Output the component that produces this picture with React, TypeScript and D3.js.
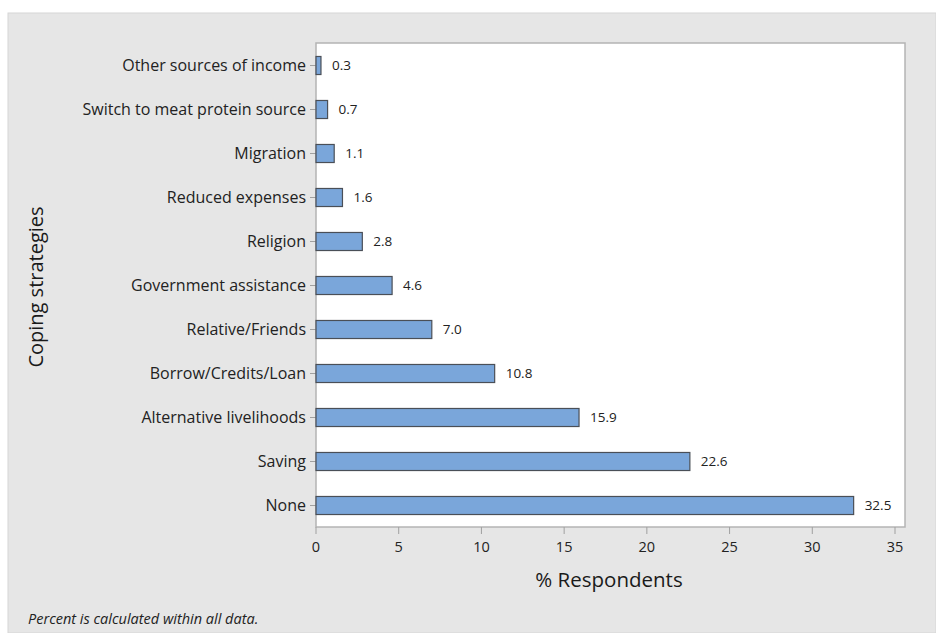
import React, { useEffect, useRef } from "react";
import * as d3 from "d3";

const categories = [
  "Other sources of income",
  "Switch to meat protein source",
  "Migration",
  "Reduced expenses",
  "Religion",
  "Government assistance",
  "Relative/Friends",
  "Borrow/Credits/Loan",
  "Alternative livelihoods",
  "Saving",
  "None",
];
const values = [0.3, 0.7, 1.1, 1.6, 2.8, 4.6, 7.0, 10.8, 15.9, 22.6, 32.5];
const xTicks = [0, 5, 10, 15, 20, 25, 30, 35];
const xTitle = "% Respondents";
const yTitle = "Coping strategies";
const footnote = "Percent is calculated within all data.";

const W = 936;
const H = 633;
const FONT = "'Open Sans', 'Noto Sans', sans-serif";

export default function App() {
  const ref = useRef<SVGSVGElement | null>(null);

  useEffect(() => {
    const svg = d3.select(ref.current);
    svg.selectAll("*").remove();

    const left = 316, right = 905, top = 43, bottom = 527;
    const x = d3.scaleLinear().domain([0, 35]).range([316, 895]);
    const y = d3
      .scaleBand<string>()
      .domain(categories)
      .range([top + 0.5, bottom + 0.5])
      .paddingInner(0.59)
      .paddingOuter(0.295);

    // outer panel
    svg.append("rect").attr("x", 8).attr("y", 13).attr("width", W - 8).attr("height", H - 13)
      .attr("fill", "#e6e6e6").attr("stroke", "#d6d6d6").attr("stroke-width", 1);

    // plot area
    svg.append("rect").attr("x", left).attr("y", top).attr("width", right - left).attr("height", bottom - top)
      .attr("fill", "#ffffff").attr("stroke", "#b4b4b4").attr("stroke-width", 1.5);

    // y ticks + labels
    const yg = svg.append("g");
    categories.forEach((c) => {
      const cy = (y(c) as number) + y.bandwidth() / 2;
      yg.append("line").attr("x1", left - 6).attr("x2", left).attr("y1", cy).attr("y2", cy)
        .attr("stroke", "#a0a0a0").attr("stroke-width", 1);
      yg.append("text").attr("x", left - 10).attr("y", cy).attr("dy", "0.35em")
        .attr("text-anchor", "end").attr("font-family", FONT).attr("font-size", 16)
        .attr("fill", "#222222").text(c);
    });

    // x ticks + labels
    const xg = svg.append("g");
    xTicks.forEach((t) => {
      xg.append("line").attr("x1", x(t)).attr("x2", x(t)).attr("y1", bottom).attr("y2", bottom + 7)
        .attr("stroke", "#a0a0a0").attr("stroke-width", 1);
      xg.append("text").attr("x", x(t)).attr("y", 547).attr("dy", "0.35em")
        .attr("text-anchor", "middle").attr("font-family", FONT).attr("font-size", 14.5)
        .attr("fill", "#222222").text(String(t));
    });

    // bars
    const bg = svg.append("g");
    categories.forEach((c, i) => {
      const v = values[i];
      const by = y(c) as number;
      bg.append("rect").attr("x", x(0)).attr("y", by).attr("width", x(v) - x(0)).attr("height", y.bandwidth())
        .attr("fill", "#7aa6da").attr("stroke", "#4a4f57").attr("stroke-width", 1.2);
      bg.append("text").attr("x", x(v) + 11).attr("y", by + y.bandwidth() / 2).attr("dy", "0.35em")
        .attr("font-family", FONT).attr("font-size", 13.5).attr("fill", "#222222").text(v.toFixed(1));
    });

    // titles
    svg.append("text").attr("x", 609).attr("y", 580).attr("dy", "0.35em")
      .attr("text-anchor", "middle").attr("font-family", FONT).attr("font-size", 20.5)
      .attr("fill", "#1a1a1a").text(xTitle);
    svg.append("text").attr("transform", `translate(36,${287}) rotate(-90)`).attr("dy", "0.35em")
      .attr("text-anchor", "middle").attr("font-family", FONT).attr("font-size", 20)
      .attr("fill", "#1a1a1a").text(yTitle);
    svg.append("text").attr("x", 28).attr("y", 619).attr("dy", "0.35em")
      .attr("font-family", FONT).attr("font-size", 14.5).attr("font-style", "italic")
      .attr("fill", "#222222").text(footnote);
  }, []);

  return (
    <svg
      ref={ref}
      width={W}
      height={H}
      style={{ position: "absolute", left: 0, top: 0, background: "#ffffff" }}
    />
  );
}
